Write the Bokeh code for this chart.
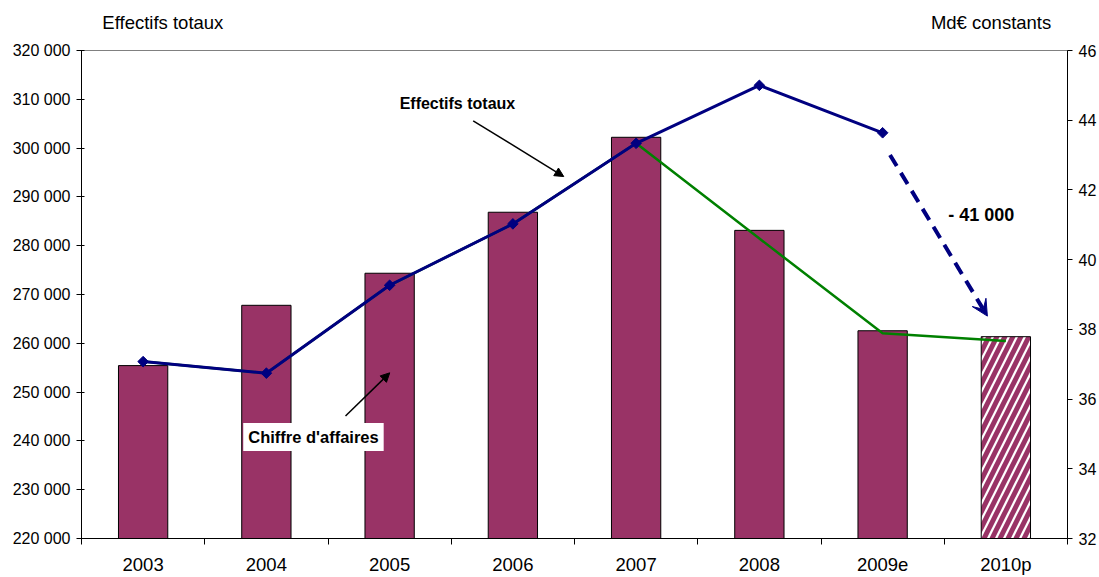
from bokeh.plotting import figure
from bokeh.models import (Range1d, LinearAxis, FixedTicker, Label, Arrow,
                          NormalHead, VeeHead, ColumnDataSource)
from bokeh.embed import file_html
from bokeh.resources import INLINE

# ---- data ----
categories = ["2003", "2004", "2005", "2006", "2007", "2008", "2009e", "2010p"]
chiffre_affaires = [36.96, 38.69, 39.61, 41.36, 43.51, 40.84, 37.96, 37.79]   # Md€ constants (bars)
effectifs = [256250, 253880, 271890, 284470, 300980, 312860, 303140]          # blue line
green_line = [256250, 253880, 271890, 284470, 300980, 281470, 262040, 260470]  # green line
left_ticks = [220000, 230000, 240000, 250000, 260000, 270000, 280000, 290000, 300000, 310000, 320000]
right_ticks = [32, 34, 36, 38, 40, 42, 44, 46]
axis_titles = ["Effectifs totaux", "Md€ constants"]

FONT = "Liberation Sans"
xpos = [i + 0.5 for i in range(len(categories))]

p = figure(width=1099, height=577, output_backend="svg", toolbar_location=None,
           x_range=Range1d(0, len(categories)), y_range=Range1d(220000, 320000),
           min_border_left=81, min_border_right=32, min_border_top=50, min_border_bottom=37)
p.extra_y_ranges = {"right": Range1d(32, 46)}
p.xgrid.visible = False
p.ygrid.visible = False
p.outline_line_color = "#808080"
p.background_fill_color = "white"
p.border_fill_color = "white"

# bars (right axis)
solid = ColumnDataSource(dict(x=xpos[:-1], top=chiffre_affaires[:-1]))
p.vbar(x="x", top="top", bottom=32, width=0.4, source=solid, y_range_name="right",
       fill_color="#993366", line_color="black", line_width=1)
hatched = ColumnDataSource(dict(x=xpos[-1:], top=chiffre_affaires[-1:]))
p.vbar(x="x", top="top", bottom=32, width=0.4, source=hatched, y_range_name="right",
       fill_color="white", line_color="black", line_width=1,
       hatch_pattern="/", hatch_color="#993366", hatch_weight=5, hatch_scale=16)

# green line
p.line(xpos, green_line, line_color="#008000", line_width=2.5)
# blue line
p.line(xpos[:len(effectifs)], effectifs, line_color="#000080", line_width=3)
p.scatter(xpos[:len(effectifs)], effectifs, marker="square", angle=0.785398, size=7.5,
          fill_color="#000080", line_color="#000080")

# axes
p.yaxis.ticker = FixedTicker(ticks=left_ticks)
p.yaxis.major_label_overrides = {t: f"{t:,}".replace(",", " ") for t in left_ticks}
p.yaxis.major_label_text_font = FONT
p.yaxis.major_label_text_font_size = "16px"
p.yaxis.major_label_text_color = "black"
p.yaxis.axis_line_color = "black"
p.yaxis.major_tick_line_color = "black"
p.yaxis.major_tick_out = 5
p.yaxis.major_tick_in = 3
p.yaxis.minor_tick_line_color = None
p.yaxis.major_label_standoff = 6

ra = LinearAxis(y_range_name="right", ticker=FixedTicker(ticks=right_ticks))
ra.major_label_text_font = FONT
ra.major_label_text_font_size = "16px"
ra.major_label_text_color = "black"
ra.axis_line_color = "black"
ra.major_tick_line_color = "black"
ra.major_tick_out = 5
ra.major_tick_in = 0
ra.minor_tick_line_color = None
ra.major_label_standoff = 6
p.add_layout(ra, "right")

p.xaxis.ticker = FixedTicker(ticks=xpos, minor_ticks=list(range(len(categories) + 1)))
p.xaxis.major_label_overrides = {x: c for x, c in zip(xpos, categories)}
p.xaxis.major_label_text_font = FONT
p.xaxis.major_label_text_font_size = "18.5px"
p.xaxis.major_label_text_color = "black"
p.xaxis.axis_line_color = "black"
p.xaxis.major_tick_out = 0
p.xaxis.major_tick_in = 0
p.xaxis.minor_tick_out = 6
p.xaxis.minor_tick_in = 0
p.xaxis.minor_tick_line_color = "black"
p.xaxis.major_label_standoff = 9

# axis titles (top) via an invisible axis above
title_pos = [0.66, 7.38]
ta = LinearAxis(ticker=FixedTicker(ticks=title_pos, minor_ticks=[]))
ta.major_label_overrides = {x: t for x, t in zip(title_pos, axis_titles)}
ta.major_label_text_font = FONT
ta.major_label_text_font_size = "18.5px"
ta.major_label_text_color = "black"
ta.axis_line_color = None
ta.major_tick_line_color = None
ta.minor_tick_line_color = None
ta.major_tick_out = 0
ta.major_tick_in = 0
ta.major_label_standoff = 18
p.add_layout(ta, "above")

# annotations
p.add_layout(Label(x=3.05, y=309200, text="Effectifs totaux", text_font=FONT,
                   text_font_size="16px", text_font_style="bold", text_align="center",
                   text_baseline="middle", text_color="black"))
p.add_layout(Arrow(x_start=3.178, y_start=305590, x_end=3.913, y_end=294170,
                   line_color="black", line_width=1.5,
                   end=NormalHead(size=9, fill_color="black", line_color="black")))

p.add_layout(Label(x=1.882, y=240800, text="Chiffre d'affaires", text_font=FONT,
                   text_font_size="16.5px", text_font_style="bold", text_align="center",
                   text_baseline="middle", text_color="black",
                   background_fill_color="white", padding=5))
p.add_layout(Arrow(x_start=2.142, y_start=245120, x_end=2.501, y_end=253945,
                   line_color="black", line_width=1.5,
                   end=NormalHead(size=9, fill_color="black", line_color="black")))

p.add_layout(Label(x=7.30, y=286360, text="- 41 000", text_font=FONT,
                   text_font_size="18px", text_font_style="bold", text_align="center",
                   text_baseline="middle", text_color="black"))
p.add_layout(Arrow(x_start=6.56, y_start=298600, x_end=7.35, y_end=265570,
                   line_color="#000080", line_width=4, line_dash="13 8",
                   end=VeeHead(size=16, fill_color="#000080", line_color="#000080", line_width=1)))

open("out.html", "w").write(file_html(p, INLINE))
